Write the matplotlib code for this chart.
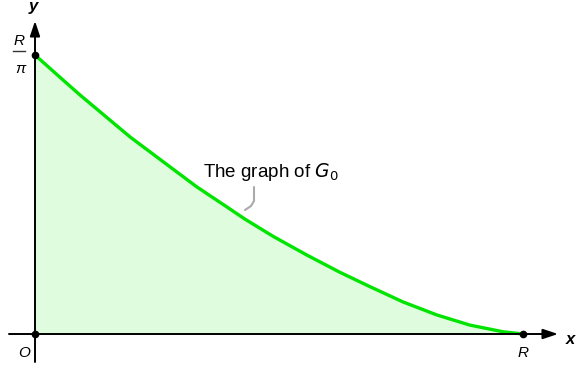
import matplotlib
matplotlib.use('Agg')
import matplotlib.pyplot as plt

plt.rcParams['font.family'] = ['Liberation Sans', 'DejaVu Sans']

# curve: x in units of R, y in units of R/pi
x_vals = [0, 0.05, 0.092, 0.195, 0.331, 0.385, 0.430, 0.488, 0.557,
          0.625, 0.686, 0.754, 0.824, 0.891, 0.959, 1.0]
y_vals = [1.0, 0.922, 0.857, 0.706, 0.528, 0.465, 0.412, 0.350, 0.283,
          0.221, 0.170, 0.115, 0.068, 0.032, 0.008, 0.0]

curve_label = 'The graph of $G_0$'
green = '#00e400'
fill_green = '#dffcdf'

fig = plt.figure(figsize=(5.76, 3.68), dpi=100)
ax = fig.add_axes([0, 0, 1, 1])
# pixel layout: origin at (35, 334), x=R at 523, y=R/pi at 55
sx, sy = 488.0, 279.0
ax.set_xlim(-35 / sx, 541 / sx)
ax.set_ylim(-34 / sy, 334 / sy)
ax.axis('off')

def px(x, y):
    return ((x - 35) / sx, (334 - y) / sy)

# fill and curve
ax.fill_between(x_vals, y_vals, 0, color=fill_green, lw=0, zorder=1)
ax.plot(x_vals, y_vals, color=green, lw=2.4, solid_capstyle='round',
        solid_joinstyle='round', zorder=3)

# axes with arrows
ax.annotate('', xy=px(558, 334), xytext=px(9, 334),
            arrowprops=dict(arrowstyle='-|>,head_length=0.9,head_width=0.3',
                            color='black', lw=1.4, shrinkA=0, shrinkB=0), zorder=4)
ax.annotate('', xy=px(35, 21), xytext=px(35, 362),
            arrowprops=dict(arrowstyle='-|>,head_length=0.9,head_width=0.3',
                            color='black', lw=1.4, shrinkA=0, shrinkB=0), zorder=4)

# points
ax.plot([0, 0, 1], [0, 1, 0], 'o', color='black', ms=4.5, zorder=5)

# axis labels
ax.text(*px(33, 6), 'y', fontsize=12, fontweight='bold', style='italic',
        ha='center', va='center')
ax.text(*px(566, 339), 'x', fontsize=12, fontweight='bold', style='italic',
        ha='left', va='center')
ax.text(*px(24, 353), 'O', fontsize=11, style='italic', ha='center', va='center')
ax.text(*px(523, 353), 'R', fontsize=11, style='italic', ha='center', va='center')

# R / pi tick label
ax.text(*px(19, 41), 'R', fontsize=11, style='italic', ha='center', va='center')
ax.plot(*zip(px(13, 51), px(25, 51)), color='#333333', lw=1.0)
ax.text(*px(20, 69), 'π', fontsize=11, style='italic', ha='center', va='center')

# curve label with pointer
ax.text(*px(203, 172), curve_label, fontsize=13.5, ha='left', va='center')
ax.plot(*zip(px(254, 187), px(254, 201), px(251, 206), px(245, 210)),
        color='#aaaaaa', lw=1.5, solid_capstyle='round', zorder=2)

fig.savefig('out.png', dpi=100)
